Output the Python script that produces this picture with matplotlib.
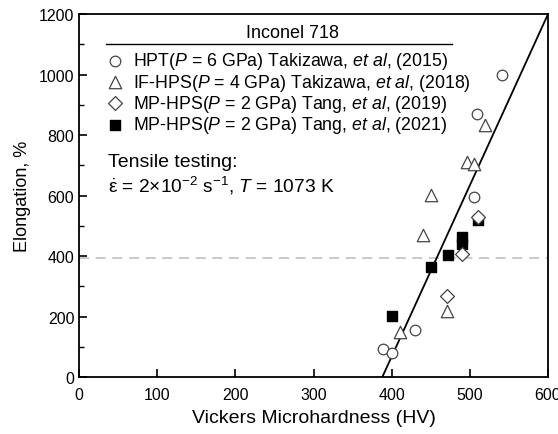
import numpy as np
import matplotlib.pyplot as plt
from matplotlib.ticker import MultipleLocator

plt.rcParams['font.family'] = ['Liberation Sans', 'DejaVu Sans']
plt.rcParams['mathtext.fontset'] = 'custom'
plt.rcParams['mathtext.rm'] = 'Liberation Sans'
plt.rcParams['mathtext.it'] = 'Liberation Sans:italic'
plt.rcParams['mathtext.bf'] = 'Liberation Sans:bold'

# HPT (P = 6 GPa) Takizawa 2015
hpt_hv = [389, 400, 430, 505, 509, 541]
hpt_el = [93, 79, 155, 595, 870, 1000]
# IF-HPS (P = 4 GPa) Takizawa 2018
ifhps_hv = [411, 440, 450, 471, 497, 505, 519]
ifhps_el = [149, 469, 602, 218, 710, 705, 833]
# MP-HPS (P = 2 GPa) Tang 2019
mp19_hv = [471, 490, 510]
mp19_el = [268, 407, 529]
# MP-HPS (P = 2 GPa) Tang 2021
mp21_hv = [400, 450, 472, 490, 490, 510]
mp21_el = [202, 364, 403, 440, 462, 518]

fit_hv = [388, 600]
fit_el = [0, 1200]
limit_el = 395

fig, ax = plt.subplots(figsize=(5.58, 4.35), dpi=100)
fig.subplots_adjust(left=0.142, right=0.982, top=0.965, bottom=0.131)

ax.axhline(limit_el, color='#c0c0c0', ls=(0, (6, 4)), lw=1.2, zorder=1)
ax.plot(fit_hv, fit_el, color='black', lw=1.3, zorder=2)

edge = '#444444'
h1 = ax.scatter(hpt_hv, hpt_el, s=58, marker='o', facecolors='white', edgecolors=edge, linewidths=0.9, zorder=3)
h2 = ax.scatter(ifhps_hv, ifhps_el, s=80, marker='^', facecolors='white', edgecolors=edge, linewidths=0.9, zorder=3)
h4 = ax.scatter(mp21_hv, mp21_el, s=52, marker='s', facecolors='black', edgecolors='black', zorder=3)
h3 = ax.scatter(mp19_hv, mp19_el, s=50, marker='D', facecolors='white', edgecolors=edge, linewidths=0.9, zorder=4)

labels = [
    'HPT($P$ = 6 GPa) Takizawa, $et$ $al$, (2015)',
    'IF-HPS($P$ = 4 GPa) Takizawa, $et$ $al$, (2018)',
    'MP-HPS($P$ = 2 GPa) Tang, $et$ $al$, (2019)',
    'MP-HPS($P$ = 2 GPa) Tang, $et$ $al$, (2021)',
]
leg = ax.legend([h1, h2, h3, h4], labels, loc='upper left', bbox_to_anchor=(0.05, 0.91),
                frameon=False, fontsize=12.8, handletextpad=0.5, labelspacing=0.02,
                borderpad=0.2, handlelength=1.0, borderaxespad=0)

ax.text(0.455, 0.95, 'Inconel 718', transform=ax.transAxes, ha='center', va='center', fontsize=13)
ax.plot([0.058, 0.795], [0.918, 0.918], transform=ax.transAxes, color='black', lw=1.0)

ax.text(0.062, 0.595, 'Tensile testing:', transform=ax.transAxes, ha='left', va='center', fontsize=14)
ax.text(0.062, 0.529, r'$\dot{\mathrm{\varepsilon}}$ = 2×10$^{-2}$ s$^{-1}$, $T$ = 1073 K',
        transform=ax.transAxes, ha='left', va='center', fontsize=13.8)

ax.set_xlim(0, 600)
ax.set_ylim(0, 1200)
ax.xaxis.set_major_locator(MultipleLocator(100))
ax.yaxis.set_major_locator(MultipleLocator(200))
ax.yaxis.set_minor_locator(MultipleLocator(100))
ax.tick_params(direction='in', which='major', length=6, width=1.2, labelsize=11.5, colors='black')
ax.tick_params(direction='in', which='minor', length=3.5, width=1.0)
ax.tick_params(axis='x', pad=7)
for sp in ax.spines.values():
    sp.set_linewidth(1.3)

ax.set_xlabel('Vickers Microhardness (HV)', fontsize=14, labelpad=5)
ax.set_ylabel('Elongation, %', fontsize=13, labelpad=6)

fig.savefig('out.png', dpi=100)
